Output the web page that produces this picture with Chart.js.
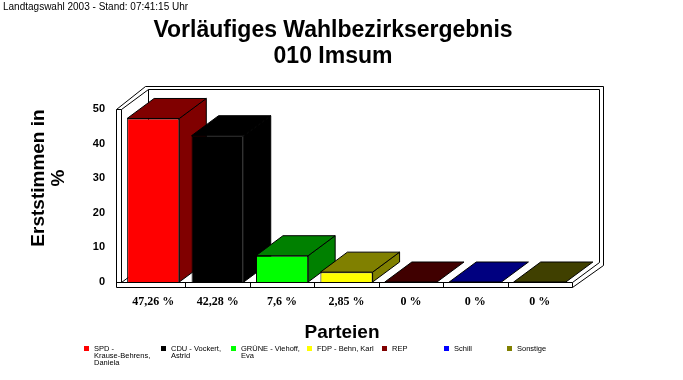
<!DOCTYPE html>
<html><head><meta charset="utf-8">
<style>html,body{margin:0;padding:0;background:#fff;}canvas{display:block;}</style>
<script src="https://cdn.jsdelivr.net/npm/chart.js@4.4.1/dist/chart.umd.min.js"></script>
</head><body>
<canvas id="c" width="683" height="380"></canvas>
<script>
// ---- data ----
const parties = [["SPD -","Krause-Behrens,","Daniela"],["CDU - Vockert,","Astrid"],["GRÜNE - Viehoff,","Eva"],["FDP - Behn, Karl"],["REP"],["Schill"],["Sonstige"]];
const values = [47.26, 42.28, 7.6, 2.85, 0, 0, 0];
const valueLabels = ["47,26 %","42,28 %","7,6 %","2,85 %","0 %","0 %","0 %"];
const yTicks = [0, 10, 20, 30, 40, 50];
const frontColors = ["#ff0000","#000000","#00ff00","#ffff00","#800000","#0000ff","#808000"];
const faceColors  = ["#800000","#000000","#008000","#808000","#400000","#000080","#404000"];
const subtitle = "Landtagswahl 2003 - Stand: 07:41:15 Uhr";
const titleLines = ["Vorläufiges Wahlbezirksergebnis","010 Imsum"];
const yTitle = ["Erststimmen in","%"];
const xTitle = "Parteien";

const DX = 27, DY = -20;

function line(ctx, pts){
  ctx.beginPath();
  pts.forEach((p,i)=>{ const x=Math.round(p[0])+0.5, y=Math.round(p[1])+0.5; i?ctx.lineTo(x,y):ctx.moveTo(x,y); });
  ctx.stroke();
}
function poly(ctx, pts, fill){
  ctx.beginPath();
  pts.forEach((p,i)=>{ i?ctx.lineTo(p[0],p[1]):ctx.moveTo(p[0],p[1]); });
  ctx.closePath();
  ctx.fillStyle = fill; ctx.fill();
  ctx.stroke();
}

const frame3d = {
  id:'frame3d',
  beforeDatasetsDraw(chart){
    const ctx = chart.ctx;
    const {left:L, right:R, top:T, bottom:B} = chart.chartArea;
    ctx.save();
    ctx.lineWidth = 1; ctx.strokeStyle = '#000';
    // back wall (inner face)
    line(ctx, [[L+DX, B+DY],[L+DX, T+DY],[R+DX, T+DY],[R+DX, B+DY]]);
    // back wall outer edge
    line(ctx, [[L+DX-3, T+DY-3],[R+DX+4, T+DY-3],[R+DX+4, B+DY+3]]);
    // left wall
    line(ctx, [[L, B],[L, T],[L+DX, T+DY]]);
    line(ctx, [[L-5, B+5],[L-5, T],[L+DX-3, T+DY-3]]);
    line(ctx, [[L-5, T],[L, T]]);
    // floor
    line(ctx, [[L, B],[L+DX, B+DY]]);
    line(ctx, [[R, B],[R+DX, B+DY]]);
    line(ctx, [[R, B+5],[R+DX+4, B+DY+3]]);
    line(ctx, [[L-5, B],[R, B],[R, B+5],[L-5, B+5]]);
    const xs = chart.scales.x;
    for (let i=1;i<values.length;i++){
      const bx = (xs.getPixelForTick(i-1)+xs.getPixelForTick(i))/2;
      line(ctx, [[bx, B],[bx, B+5]]);
    }
    // bar top + side faces
    const meta = chart.getDatasetMeta(0);
    meta.data.forEach((bar,i)=>{
      const p = bar.getProps(['x','y','width','base'], true);
      const x0 = p.x - p.width/2, x1 = p.x + p.width/2;
      if (p.base - p.y > 0.5){
        poly(ctx, [[x1,p.y],[x1+DX,p.y+DY],[x1+DX,p.base+DY],[x1,p.base]], faceColors[i]);
      }
      poly(ctx, [[x0,p.y],[x1,p.y],[x1+DX,p.y+DY],[x0+DX,p.y+DY]], faceColors[i]);
    });
    ctx.restore();
  }
};

const texts = {
  id:'texts',
  afterDraw(chart){
    const ctx = chart.ctx;
    const ca = chart.chartArea;
    ctx.save();
    ctx.fillStyle = '#000';
    // subtitle
    ctx.font = '10px "Liberation Sans", Arial, sans-serif';
    ctx.textAlign = 'left'; ctx.textBaseline = 'middle';
    ctx.fillText(subtitle, 3, 7);
    // title
    ctx.font = 'bold 23px "Liberation Sans", Arial, sans-serif';
    ctx.textAlign = 'center'; ctx.textBaseline = 'alphabetic';
    ctx.fillText(titleLines[0], 333, 37);
    ctx.fillText(titleLines[1], 333, 63);
    // y title
    ctx.save();
    ctx.translate(0, 178);
    ctx.rotate(-Math.PI/2);
    ctx.font = 'bold 19px "Liberation Sans", Arial, sans-serif';
    ctx.textBaseline = 'middle';
    ctx.fillText(yTitle[0], 0, 39);
    ctx.fillText(yTitle[1], 0, 59);
    ctx.restore();
    // x title
    ctx.font = 'bold 19px "Liberation Sans", Arial, sans-serif';
    ctx.textAlign = 'center'; ctx.textBaseline = 'alphabetic';
    ctx.fillText(xTitle, 342, 338);
    // legend
    const legendX = [84, 161, 231, 307, 382, 444, 507];
    ctx.font = '7.5px "Liberation Sans", Arial, sans-serif';
    ctx.textAlign = 'left'; ctx.textBaseline = 'middle';
    parties.forEach((lines,i)=>{
      ctx.fillStyle = frontColors[i];
      ctx.fillRect(legendX[i], 346, 5, 5);
      ctx.fillStyle = '#000';
      lines.forEach((t,j)=> ctx.fillText(t, legendX[i]+10, 348.5 + j*7));
    });
    ctx.restore();
  }
};

new Chart(document.getElementById('c').getContext('2d'), {
  type:'bar',
  data:{
    labels: valueLabels,
    datasets:[{
      data: values,
      backgroundColor: frontColors,
      borderColor: '#000',
      borderWidth: c => (c.raw > 0 ? 1 : 0),
      barPercentage: 0.81,
      categoryPercentage: 1
    }]
  },
  options:{
    responsive:false, animation:false, devicePixelRatio:1,
    layout:{padding:{left:0, right:111, top:109, bottom:0}},
    plugins:{legend:{display:false}, tooltip:{enabled:false}, title:{display:false}},
    scales:{
      x:{
        grid:{display:false, drawTicks:false}, border:{display:false},
        ticks:{font:{family:'"Liberation Serif", "Times New Roman", serif', size:12, weight:'bold'}, color:'#000', padding:13, maxRotation:0, autoSkip:false},
        afterFit(s){ s.height = 98; }
      },
      y:{
        min:0, max:50,
        grid:{display:false, drawTicks:false}, border:{display:false},
        ticks:{font:{family:'"Liberation Sans", Arial, sans-serif', size:11, weight:'bold'}, color:'#000', padding:16},
        afterBuildTicks(s){ s.ticks = yTicks.map(v=>({value:v})); },
        afterFit(s){ s.width = 121; }
      }
    }
  },
  plugins:[frame3d, texts]
});
</script>
</body></html>
